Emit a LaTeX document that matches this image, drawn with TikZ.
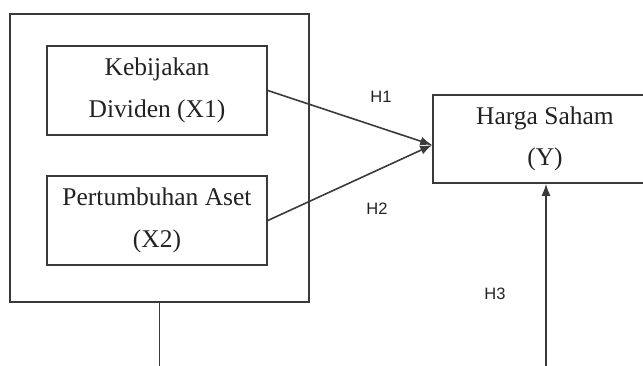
\documentclass[tikz,border=0pt]{standalone}
\usepackage{fontspec}
\setmainfont{Liberation Serif}
\newfontfamily\hlabelfont{Liberation Sans}
\usetikzlibrary{arrows.meta}

\begin{document}
\begin{tikzpicture}[x=1pt,y=-1pt,line cap=rect]
	\definecolor{custcol_3a_3a_3a}{RGB}{58, 58, 58}
	\definecolor{custcol_22_22_22}{RGB}{34, 34, 34}
	\tikzset{
		varbox/.style={draw=custcol_3a_3a_3a, line width=1.6pt, rectangle, align=center, text=custcol_22_22_22,
			font=\fontsize{25.5pt}{41.5pt}\selectfont, minimum width=220pt, minimum height=89pt, inner sep=0,
			execute at begin node={\rule{0pt}{23pt}}},
		hlabel/.style={inner sep=0, outer sep=0, text=custcol_22_22_22, font=\hlabelfont\fontsize{16.5pt}{16.5pt}\selectfont},
		link/.style={draw=custcol_3a_3a_3a, line width=1.6pt, -{Latex[length=12pt,width=9pt]}}
	}
	\useasboundingbox (0.0,0.0) rectangle (643.0,365.0);
	% outer frame round X1 and X2
	\node[draw=custcol_3a_3a_3a, line width=1.6pt, minimum width=299pt, minimum height=288pt, inner sep=0] (frame) at (159.5,158.0) {};
	\node[varbox] (x1) at (157.0,90.5) {Kebijakan\\Dividen (X1)};
	\node[varbox] (x2) at (157.0,220.5) {Pertumbuhan Aset\\(X2)};
	\node[varbox, minimum width=224pt, minimum height=88pt] (y) at (545.0,139.0) {Harga Saham\\(Y)};
	\coordinate (framefoot) at (159.5,372.0);
	\coordinate (h3foot) at (546.0,372.0);
	\draw [link] (x1.east) -- ([yshift=-6pt]y.west);
	\draw [link] (x2.east) -- ([yshift=-6pt]y.west);
	\draw [draw=custcol_3a_3a_3a, line width=1.6pt] (frame.south) -- (framefoot);
	\draw [link] (h3foot) -- (h3foot |- y.south);
	\node[hlabel] (h1) at (381.0,97.0) {H1};
	\node[hlabel] (h2) at (377.0,209.0) {H2};
	\node[hlabel] (h3) at (495.0,294.0) {H3};
\end{tikzpicture}
\end{document}
